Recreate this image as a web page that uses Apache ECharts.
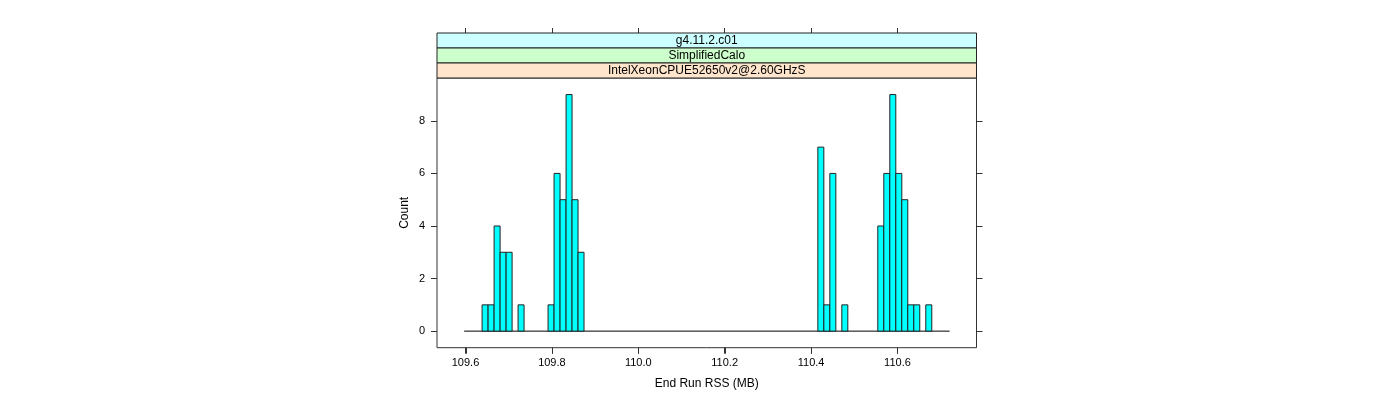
<!DOCTYPE html>
<html>
<head>
<meta charset="utf-8">
<script src="https://cdn.jsdelivr.net/npm/echarts@6/dist/echarts.min.js"></script>
<style>
  html, body { margin: 0; padding: 0; background: #ffffff; }
  #chart { width: 1400px; height: 400px; }
</style>
</head>
<body>
<div id="chart"></div>
<script>
// ---- data ----
const binStarts = [109.6384, 109.6523, 109.6662, 109.6801, 109.6940, 109.7217,
                   109.7911, 109.8050, 109.8189, 109.8328, 109.8466, 109.8605,
                   110.4157, 110.4296, 110.4435, 110.4712,
                   110.5545, 110.5684, 110.5823, 110.5962, 110.6100, 110.6239, 110.6378, 110.6656];
const binCounts = [1, 1, 4, 3, 3, 1,
                   1, 6, 5, 9, 5, 3,
                   7, 1, 6, 1,
                   4, 6, 9, 6, 5, 1, 1, 1];
const binWidth = 0.01388;
const breaksRange = [109.5968, 110.7208];
const xTicks = [109.6, 109.8, 110.0, 110.2, 110.4, 110.6];
const yTicks = [0, 2, 4, 6, 8];
const stripLabels = ['g4.11.2.c01', 'SimplifiedCalo', 'IntelXeonCPUE52650v2@2.60GHzS'];
const stripColors = ['#CCFFFF', '#CCFFCC', '#FFE5CC'];
const xTitle = 'End Run RSS (MB)';
const yTitle = 'Count';

// ---- layout ----
const gridLeft = 437, gridRight = 976.5, gridTop = 78, gridBottom = 347.7;
const stripH = 15;
const FONT = '"Liberation Sans", Arial, Helvetica, sans-serif';

const chart = echarts.init(document.getElementById('chart'), null, { renderer: 'canvas' });

const barData = binStarts.map((s, i) => [s, binCounts[i]]);

const graphics = [];
stripLabels.forEach((lab, i) => {
  const y = gridTop - stripH * (stripLabels.length - i);
  graphics.push({
    id: 'strip' + i,
    type: 'rect',
    shape: { x: gridLeft, y: y, width: gridRight - gridLeft, height: stripH },
    style: { fill: stripColors[i], stroke: '#222', lineWidth: 1 },
    z: 10
  });
  graphics.push({
    id: 'stripText' + i,
    type: 'text',
    x: (gridLeft + gridRight) / 2,
    y: y + stripH / 2 + 0.5,
    style: { text: lab, fill: '#000', font: '12px ' + FONT, align: 'center', verticalAlign: 'middle' },
    z: 11
  });
});

const xMin = 109.534, xMax = 110.783, yMin = -0.63, yMax = 9.63;

const option = {
  animation: false,
  backgroundColor: '#ffffff',
  textStyle: { fontFamily: FONT },
  grid: {
    left: gridLeft, right: 1400 - gridRight, top: gridTop, bottom: 400 - gridBottom,
    show: true, borderColor: '#333', borderWidth: 1, backgroundColor: 'transparent'
  },
  xAxis: [{
    type: 'value', min: xMin, max: xMax, position: 'bottom',
    name: xTitle, nameLocation: 'middle', nameGap: 30,
    nameTextStyle: { fontSize: 12, color: '#000', fontFamily: FONT },
    axisLine: { show: false, onZero: false },
    axisTick: { show: true, length: 6, inside: false, customValues: xTicks, lineStyle: { color: '#333' } },
    axisLabel: { show: true, fontSize: 11, color: '#000', margin: 10, customValues: xTicks,
                 formatter: v => v.toFixed(1), fontFamily: FONT },
    splitLine: { show: false }
  }, {
    type: 'value', min: xMin, max: xMax, position: 'top', offset: stripH * 3,
    axisLine: { show: false, onZero: false },
    axisTick: { show: true, length: 5, inside: false, customValues: xTicks, lineStyle: { color: '#333' } },
    axisLabel: { show: false },
    splitLine: { show: false }
  }],
  yAxis: [{
    type: 'value', min: yMin, max: yMax, position: 'left',
    name: yTitle, nameLocation: 'middle', nameGap: 26, nameRotate: 90,
    nameTextStyle: { fontSize: 12, color: '#000', fontFamily: FONT },
    axisLine: { show: false, onZero: false },
    axisTick: { show: true, length: 6, inside: false, customValues: yTicks, lineStyle: { color: '#333' } },
    axisLabel: { show: true, fontSize: 11, color: '#000', margin: 12, customValues: yTicks, fontFamily: FONT },
    splitLine: { show: false }
  }, {
    type: 'value', min: yMin, max: yMax, position: 'right',
    axisLine: { show: false, onZero: false },
    axisTick: { show: true, length: 6, inside: false, customValues: yTicks, lineStyle: { color: '#333' } },
    axisLabel: { show: false },
    splitLine: { show: false }
  }],
  series: [{
    type: 'line',
    xAxisIndex: 0, yAxisIndex: 0,
    data: [[breaksRange[0], 0], [breaksRange[1], 0]],
    symbol: 'none',
    lineStyle: { color: '#000', width: 1 },
    z: 1,
    silent: true
  }, {
    type: 'custom',
    xAxisIndex: 0, yAxisIndex: 0,
    data: barData,
    z: 2,
    renderItem: function (params, api) {
      const x0 = api.value(0);
      const c = api.value(1);
      const p0 = api.coord([x0, 0]);
      const p1 = api.coord([x0 + binWidth, c]);
      return {
        type: 'rect',
        shape: { x: p0[0], y: p1[1], width: p1[0] - p0[0], height: p0[1] - p1[1] },
        style: { fill: '#00FFFF', stroke: '#222', lineWidth: 1 }
      };
    }
  }],
  graphic: graphics
};

chart.setOption(option);

// bottom tick marks, positioned through the x axis scale
const tickGraphics = xTicks.map((v, i) => {
  const p = chart.convertToPixel({ xAxisIndex: 0, yAxisIndex: 0 }, [v, yMin]);
  const x = Math.round(p[0]) + 0.5;
  return {
    id: 'btick' + i,
    type: 'line',
    shape: { x1: x, y1: p[1], x2: x, y2: p[1] + 6 },
    style: { stroke: '#333', lineWidth: 1 },
    z: 20
  };
});
chart.setOption({ graphic: graphics.concat(tickGraphics) });
</script>
</body>
</html>
